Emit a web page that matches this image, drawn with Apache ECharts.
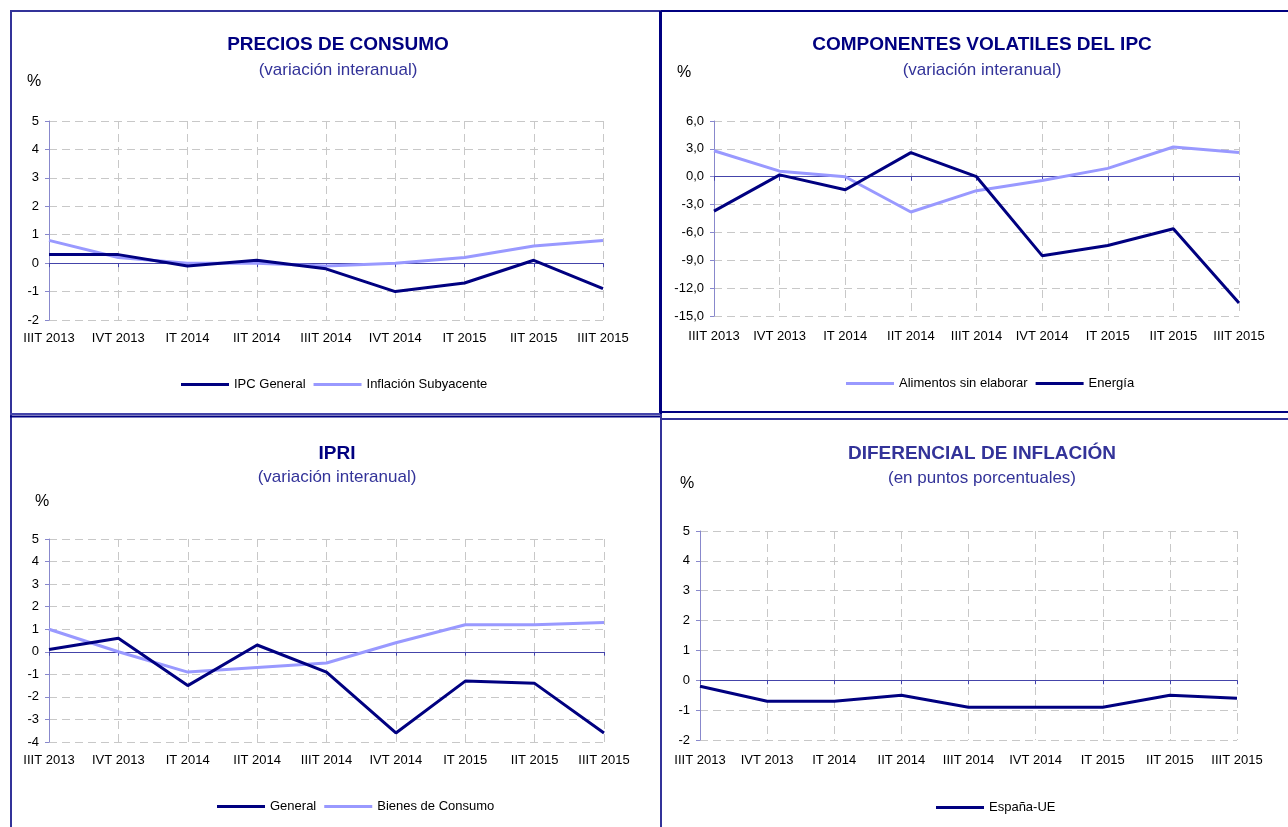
<!DOCTYPE html>
<html>
<head>
<meta charset="utf-8">
<script src="https://cdn.jsdelivr.net/npm/echarts@6/dist/echarts.min.js"></script>
<style>
  html, body { margin: 0; padding: 0; background: #fff; }
  #chart { width: 1288px; height: 827px; }
</style>
</head>
<body>
<div id="chart"></div>
<script>
// trimestres (eje X comun)
var trimestres = ["IIIT 2013", "IVT 2013", "IT 2014", "IIT 2014", "IIIT 2014", "IVT 2014", "IT 2015", "IIT 2015", "IIIT 2015"];

// precios de consumo
var ipcGeneral = [0.3, 0.3, -0.1, 0.1, -0.2, -1.0, -0.7, 0.1, -0.9];
var inflacionSubyacente = [0.8, 0.2, 0.0, 0.0, -0.1, 0.0, 0.2, 0.6, 0.8];

// componentes volatiles del IPC
var alimentosSinElaborar = [2.8, 0.6, 0.0, -3.8, -1.5, -0.4, 0.9, 3.2, 2.6];
var energia = [-3.7, 0.2, -1.4, 2.6, 0.0, -8.5, -7.4, -5.6, -13.6];

// IPRI
var ipriGeneral = [0.1, 0.6, -1.5, 0.3, -0.9, -3.6, -1.3, -1.4, -3.6];
var bienesConsumo = [1.0, 0.0, -0.9, -0.7, -0.5, 0.4, 1.2, 1.2, 1.3];

// diferencial de inflacion
var espanaUE = [-0.2, -0.7, -0.7, -0.5, -0.9, -0.9, -0.9, -0.5, -0.6];

var FONT = "Liberation Sans, Arial, sans-serif";
var OSCURO = "#000080";
var CLARO = "#9999ff";

var chart = echarts.init(document.getElementById("chart"));

var grids = [
  { left: 49, top: 121, width: 554, height: 199 },
  { left: 714, top: 121, width: 525, height: 195 },
  { left: 49, top: 539, width: 555, height: 203 },
  { left: 700, top: 531, width: 537, height: 209 },
];
var yRangos = [
  { min: -2, max: 5, interval: 1 },
  { min: -15, max: 6, interval: 3 },
  { min: -4, max: 5, interval: 1 },
  { min: -2, max: 5, interval: 1 },
];
var labelMargins = [12, 14, 12, 14];

var xAxis = [];
var yAxis = [];
grids.forEach(function (g, i) {
  g.containLabel = false;
  g.outerBoundsMode = "none";
  // eje con etiquetas abajo
  xAxis.push({
    type: "category",
    gridIndex: i,
    data: trimestres,
    boundaryGap: false,
    position: "bottom",
    axisLine: { show: false, onZero: false },
    axisTick: { show: false },
    axisLabel: { interval: 0, margin: labelMargins[i], fontSize: 13, color: "#000", fontFamily: FONT },
    splitLine: { show: true, lineStyle: { color: "#c8c8c8", type: [8, 5], width: 1 } },
  });
  // linea del cero
  xAxis.push({
    type: "category",
    gridIndex: i,
    data: trimestres,
    boundaryGap: false,
    position: "top",
    axisLine: { show: true, onZero: true, lineStyle: { color: "#4444aa", width: 1 } },
    axisTick: { show: true, inside: true, length: 4, lineStyle: { color: "#4444aa" } },
    axisLabel: { show: false },
    splitLine: { show: false },
  });
  yAxis.push({
    type: "value",
    gridIndex: i,
    min: yRangos[i].min,
    max: yRangos[i].max,
    interval: yRangos[i].interval,
    axisLine: { show: true, onZero: false, lineStyle: { color: "#8888cc", width: 1 } },
    axisTick: { show: true, length: 4, lineStyle: { color: "#8888cc" } },
    axisLabel: {
      margin: 10,
      fontSize: 13,
      color: "#000",
      fontFamily: FONT,
      formatter: i === 1 ? function (v) { return v.toFixed(1).replace(".", ","); } : "{value}",
    },
    splitLine: { show: true, lineStyle: { color: "#c8c8c8", type: [8, 5], width: 1 } },
  });
});

function serie(nombre, datos, color, idx) {
  return {
    name: nombre,
    type: "line",
    xAxisIndex: idx * 2,
    yAxisIndex: idx,
    data: datos,
    symbol: "none",
    smooth: false,
    lineStyle: { color: color, width: 3 },
    itemStyle: { color: color },
    animation: false,
  };
}

function titulo(texto, sub, x, y, gap, color) {
  return {
    text: texto,
    subtext: sub,
    left: x,
    top: y,
    textAlign: "center",
    padding: 0,
    itemGap: gap,
    textStyle: { fontSize: 19, fontWeight: "bold", color: color, fontFamily: FONT },
    subtextStyle: { fontSize: 17, color: "#333399", fontFamily: FONT },
  };
}

function leyenda(nombres, x, y) {
  return {
    data: nombres,
    left: x,
    top: y,
    padding: 0,
    icon: "rect",
    itemWidth: 48,
    itemHeight: 3,
    itemGap: 8,
    selectedMode: false,
    textStyle: { fontSize: 13, color: "#000", fontFamily: FONT },
  };
}

function porcentaje(x, y) {
  return {
    type: "text",
    x: x,
    y: y,
    style: { text: "%", fontSize: 16, fill: "#000", font: "16px " + FONT, textAlign: "center", textVerticalAlign: "middle" },
  };
}

function linea(x1, y1, x2, y2, color, w) {
  return { type: "line", shape: { x1: x1, y1: y1, x2: x2, y2: y2 }, style: { stroke: color, lineWidth: w } };
}

chart.setOption({
  animation: false,
  backgroundColor: "#fff",
  title: [
    titulo("PRECIOS DE CONSUMO", "(variación interanual)", 338, 35, 8, OSCURO),
    titulo("COMPONENTES VOLATILES DEL IPC", "(variación interanual)", 982, 35, 8, OSCURO),
    titulo("IPRI", "(variación interanual)", 337, 444, 6, OSCURO),
    titulo("DIFERENCIAL DE INFLACIÓN", "(en puntos porcentuales)", 982, 444, 7, "#333399"),
  ],
  legend: [
    leyenda(["IPC General", "Inflación Subyacente"], 181, 378),
    leyenda(["Alimentos sin elaborar", "Energía"], 846, 377),
    leyenda(["General", "Bienes de Consumo"], 217, 800),
    leyenda(["España-UE"], 936, 801),
  ],
  grid: grids,
  xAxis: xAxis,
  yAxis: yAxis,
  series: [
    serie("Inflación Subyacente", inflacionSubyacente, CLARO, 0),
    serie("IPC General", ipcGeneral, OSCURO, 0),
    serie("Alimentos sin elaborar", alimentosSinElaborar, CLARO, 1),
    serie("Energía", energia, OSCURO, 1),
    serie("Bienes de Consumo", bienesConsumo, CLARO, 2),
    serie("General", ipriGeneral, OSCURO, 2),
    serie("España-UE", espanaUE, OSCURO, 3),
  ],
  graphic: [
    // marcos de los paneles
    linea(10, 11, 661, 11, "#333399", 2),
    linea(661, 11, 1288, 11, OSCURO, 2),
    linea(11, 11, 11, 827, "#333399", 2),
    linea(660.5, 11, 660.5, 414, OSCURO, 3),
    linea(661, 414, 661, 827, "#333399", 2),
    linea(10, 414, 660, 414, "#4444aa", 2),
    linea(10, 416.5, 660, 416.5, OSCURO, 2),
    linea(661, 412, 1288, 412, OSCURO, 2),
    linea(661, 419, 1288, 419, "#333399", 2),
    porcentaje(34, 82),
    porcentaje(684, 73),
    porcentaje(42, 502),
    porcentaje(687, 484),
  ],
});

window.addEventListener("resize", function () {
  chart.resize();
});
</script>
</body>
</html>
